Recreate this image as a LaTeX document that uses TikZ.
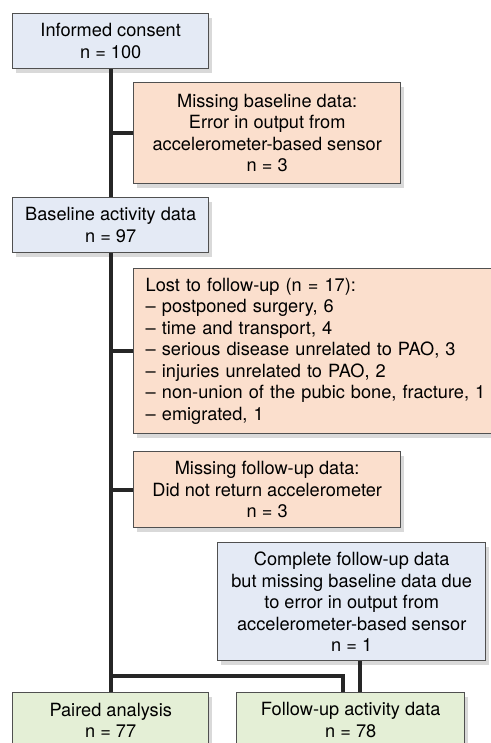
\documentclass[tikz,border=0pt]{standalone}
\usepackage{fontspec}
\setmainfont{TeX Gyre Heros}
\usetikzlibrary{shadows}
\definecolor{boxLine}{RGB}{80,80,80}
\definecolor{blueFill}{RGB}{228,234,245}
\definecolor{orangeFill}{RGB}{251,223,205}
\definecolor{greenFill}{RGB}{228,239,214}

\begin{document}
\begin{tikzpicture}[%
    x=0.5pt, y=-0.5pt,
    every node/.style={
        font=\fontsize{9.1}{10.75}\selectfont,
    },
    flowbox/.style={
        draw=boxLine, line width=0.7pt, inner sep=2pt,
        anchor=north west, align=center,
        drop shadow={shadow xshift=1.5pt, shadow yshift=-2pt, opacity=0.3},
    },
    bluebox/.style={flowbox, fill=blueFill},
    orangebox/.style={flowbox, fill=orangeFill},
    greenbox/.style={flowbox, fill=greenFill},
    link/.style={line width=2pt, black!85},
]
\useasboundingbox (0,0) rectangle (491,743);

% place boxes
\node[bluebox, minimum width=98pt, minimum height=27.5pt] (consent) at (12,13)
    {Informed consent\\n = 100};
\node[orangebox, minimum width=133.5pt, minimum height=50.5pt] (misbase) at (133,82)
    {Missing baseline data:\\Error in output from\\accelerometer-based sensor\\n = 3};
\node[bluebox, minimum width=98pt, minimum height=27.5pt] (baseline) at (12,197)
    {Baseline activity data\\n = 97};
\node[orangebox, align=left, inner xsep=6pt, text width=175pt, minimum height=82.5pt] (lost) at (133,268)
    {Lost to follow-up (n = 17):\\
     -- postponed surgery, 6\\
     -- time and transport, 4\\
     -- serious disease unrelated to PAO, 3\\
     -- injuries unrelated to PAO, 2\\
     -- non-union of the pubic bone, fracture, 1\\
     -- emigrated, 1};
\node[orangebox, minimum width=133.5pt, minimum height=38pt] (misfollow) at (133,451)
    {Missing follow-up data:\\Did not return accelerometer\\n = 3};
\node[bluebox, minimum width=134pt, minimum height=59pt] (complete) at (217,542)
    {Complete follow-up data\\but missing baseline data due\\to error in output from\\accelerometer-based sensor\\n = 1};
\node[greenbox, minimum width=98pt, minimum height=27.5pt] (paired) at (12,692)
    {Paired analysis\\n = 77};
\node[greenbox, minimum width=114pt, minimum height=27.5pt] (followup) at (236,692)
    {Follow-up activity data\\n = 78};

% draw trunk
\draw[link] (consent.south) -- (baseline.north);
\draw[link] (baseline.south) -- (paired.north);

% draw side branches
\foreach \b in {misbase,lost,misfollow} {
    \draw[link] (\b.west) -- (\b.west -| consent.south);
}

% draw links into follow-up box
\coordinate (join) at (110,676);
\draw[link] (join) -| ([xshift=-4pt]followup.north);
\draw[link] ([xshift=4.5pt]followup.north) -- ([xshift=4.5pt]followup.north |- complete.south);

\end{tikzpicture}
\end{document}
